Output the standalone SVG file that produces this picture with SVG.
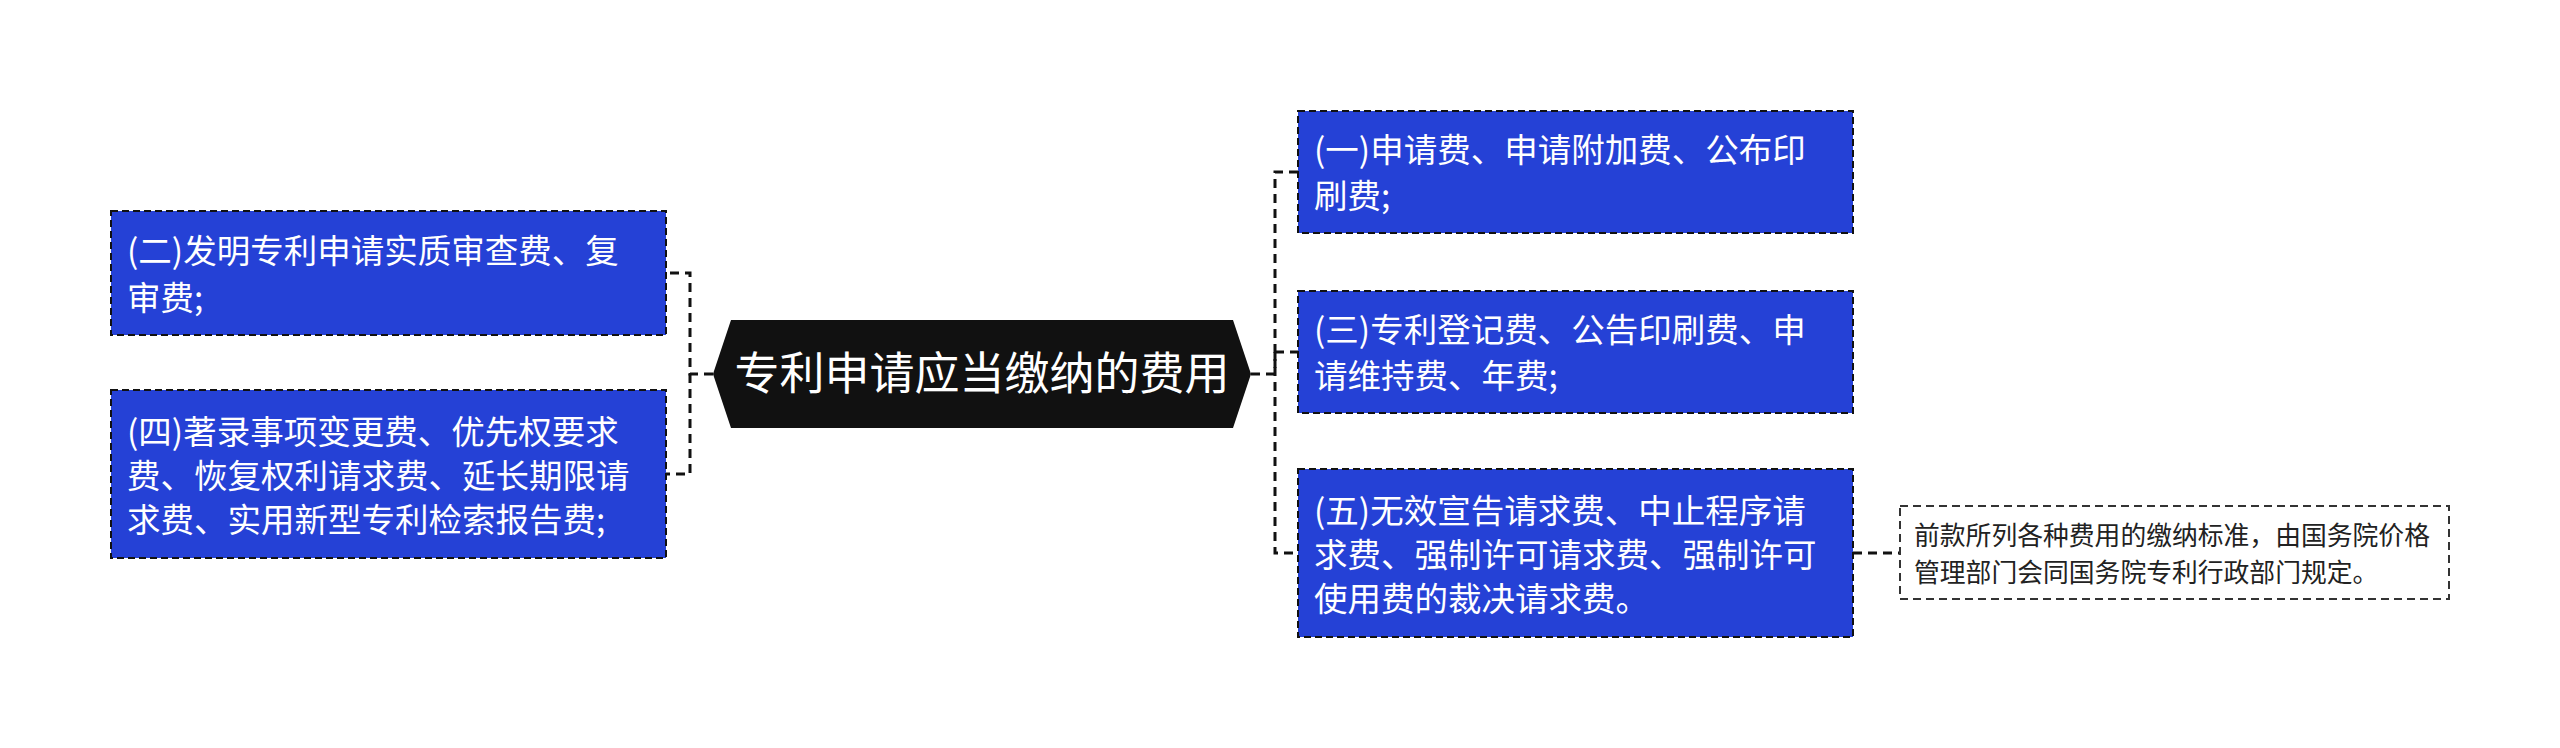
<svg xmlns="http://www.w3.org/2000/svg" width="2560" height="748" viewBox="0 0 2560 748">
<style>
.box{fill:#2541d6;stroke:#111;stroke-width:2;stroke-dasharray:7 4}
.t{font-family:"Noto Sans CJK SC","Noto Sans",sans-serif;fill:#fff;font-size:33.5px}
.nt{font-family:"Noto Sans CJK SC","Noto Sans",sans-serif;fill:#222;font-size:25.8px}
.c{fill:none;stroke:#111;stroke-width:3;stroke-dasharray:9 6}
.note{fill:#fff;stroke:#333;stroke-width:2;stroke-dasharray:8 5}
</style>
<rect width="2560" height="748" fill="#fff"/>
<g id="connectors">
<path class="c" d="M713 374H690V273H666"/>
<path class="c" d="M690 374V474H666"/>
<path class="c" d="M1251 374H1275V172H1298"/>
<path class="c" d="M1275 352V553H1298"/>
<path class="c" d="M1275 352H1298"/>
<path class="c" d="M1853 553H1900"/>
</g>
<g id="center">
<polygon points="713,374 731,320 1233,320 1251,374 1233,428 731,428" fill="#111"/>
<text x="982" y="390" text-anchor="middle" font-family="Noto Sans CJK SC,sans-serif" font-size="45" fill="#fff">专利申请应当缴纳的费用</text>
</g>
<g id="n2">
<rect class="box" x="111" y="211" width="555" height="124"/>
<text class="t"><tspan x="127" y="263">(二)发明专利申请实质审查费、复</tspan><tspan x="127" y="310">审费;</tspan></text>
</g>
<g id="n4">
<rect class="box" x="111" y="390" width="555" height="168"/>
<text class="t"><tspan x="127" y="444">(四)著录事项变更费、优先权要求</tspan><tspan x="127" y="488">费、恢复权利请求费、延长期限请</tspan><tspan x="127" y="532">求费、实用新型专利检索报告费;</tspan></text>
</g>
<g id="n1">
<rect class="box" x="1298" y="111" width="555" height="122"/>
<text class="t"><tspan x="1314" y="162">(一)申请费、申请附加费、公布印</tspan><tspan x="1314" y="208">刷费;</tspan></text>
</g>
<g id="n3">
<rect class="box" x="1298" y="291" width="555" height="122"/>
<text class="t"><tspan x="1314" y="342">(三)专利登记费、公告印刷费、申</tspan><tspan x="1314" y="388">请维持费、年费;</tspan></text>
</g>
<g id="n5">
<rect class="box" x="1298" y="469" width="555" height="168"/>
<text class="t"><tspan x="1314" y="523">(五)无效宣告请求费、中止程序请</tspan><tspan x="1314" y="567">求费、强制许可请求费、强制许可</tspan><tspan x="1314" y="611">使用费的裁决请求费。</tspan></text>
</g>
<g id="note">
<rect class="note" x="1900" y="506" width="549" height="93"/>
<text class="nt"><tspan x="1914" y="545">前款所列各种费用的缴纳标准，由国务院价格</tspan><tspan x="1914" y="582">管理部门会同国务院专利行政部门规定。</tspan></text>
</g>
</svg>
